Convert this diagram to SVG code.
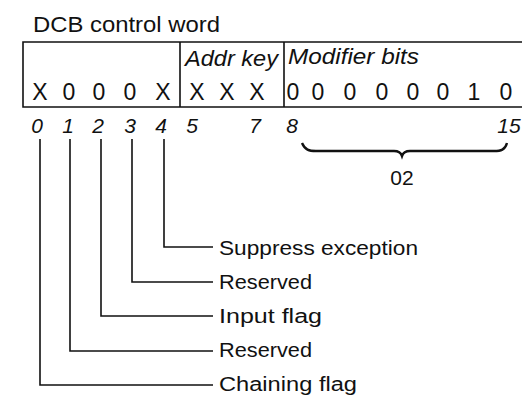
<svg xmlns="http://www.w3.org/2000/svg" width="522" height="396" viewBox="0 0 522 396">
<style>
text{font-family:"Liberation Sans",Arial,sans-serif;fill:#111}
.t{font-size:22px}
.i{font-size:22px;font-style:italic}
.n{font-size:21px;font-style:italic;text-anchor:middle}
.b{font-size:23px;text-anchor:middle}
.l{font-size:20px}
.ln{fill:none;stroke:#111;stroke-width:1.6}
</style>
<rect width="522" height="396" fill="#fff"/>
<g id="title"><text class="t" x="33" y="32" textLength="187" lengthAdjust="spacingAndGlyphs">DCB control word</text></g>
<g id="word">
<path class="ln" d="M522 42H23V107H522M180 42V107M284 42V107" stroke-width="1.8"/>
<text class="i" x="185" y="66" textLength="93" lengthAdjust="spacingAndGlyphs">Addr key</text>
<text class="i" x="288" y="64" textLength="131" lengthAdjust="spacingAndGlyphs">Modifier bits</text>
<text class="b" y="100"><tspan x="40">X</tspan><tspan x="69">0</tspan><tspan x="99">0</tspan><tspan x="130">0</tspan><tspan x="163">X</tspan><tspan x="197">X</tspan><tspan x="227">X</tspan><tspan x="257">X</tspan><tspan x="293">0</tspan><tspan x="318">0</tspan><tspan x="350">0</tspan><tspan x="382">0</tspan><tspan x="413">0</tspan><tspan x="443">0</tspan><tspan x="474">1</tspan><tspan x="506">0</tspan></text>
</g>
<g id="bitnumbers">
<text class="n" y="133"><tspan x="37">0</tspan><tspan x="68">1</tspan><tspan x="98">2</tspan><tspan x="130">3</tspan><tspan x="161">4</tspan><tspan x="192">5</tspan><tspan x="255">7</tspan><tspan x="292">8</tspan><tspan x="509">15</tspan></text>
</g>
<g id="brace">
<path d="M302 143C305 150 309 151 316 151H394C398 151 401 153 402 156C403 153 406 151 410 151H494C501 151 505 150 507 143" fill="none" stroke="#111" stroke-width="2.4"/>
<text x="402" y="185" text-anchor="middle" style="font-size:21px">02</text>
</g>
<g id="connectors">
<path class="ln" d="M164 139V247H213"/>
<path class="ln" d="M132 139V282H213"/>
<path class="ln" d="M101 139V316H213"/>
<path class="ln" d="M70 139V351H213"/>
<path class="ln" d="M40 139V385H213"/>
</g>
<g id="labels">
<text class="l" x="219" y="255" textLength="199" lengthAdjust="spacingAndGlyphs">Suppress exception</text>
<text class="l" x="219" y="289" textLength="93" lengthAdjust="spacingAndGlyphs">Reserved</text>
<text class="l" x="219" y="323" textLength="103" lengthAdjust="spacingAndGlyphs">Input flag</text>
<text class="l" x="219" y="357" textLength="93" lengthAdjust="spacingAndGlyphs">Reserved</text>
<text class="l" x="219" y="391" textLength="138" lengthAdjust="spacingAndGlyphs">Chaining flag</text>
</g>
</svg>
